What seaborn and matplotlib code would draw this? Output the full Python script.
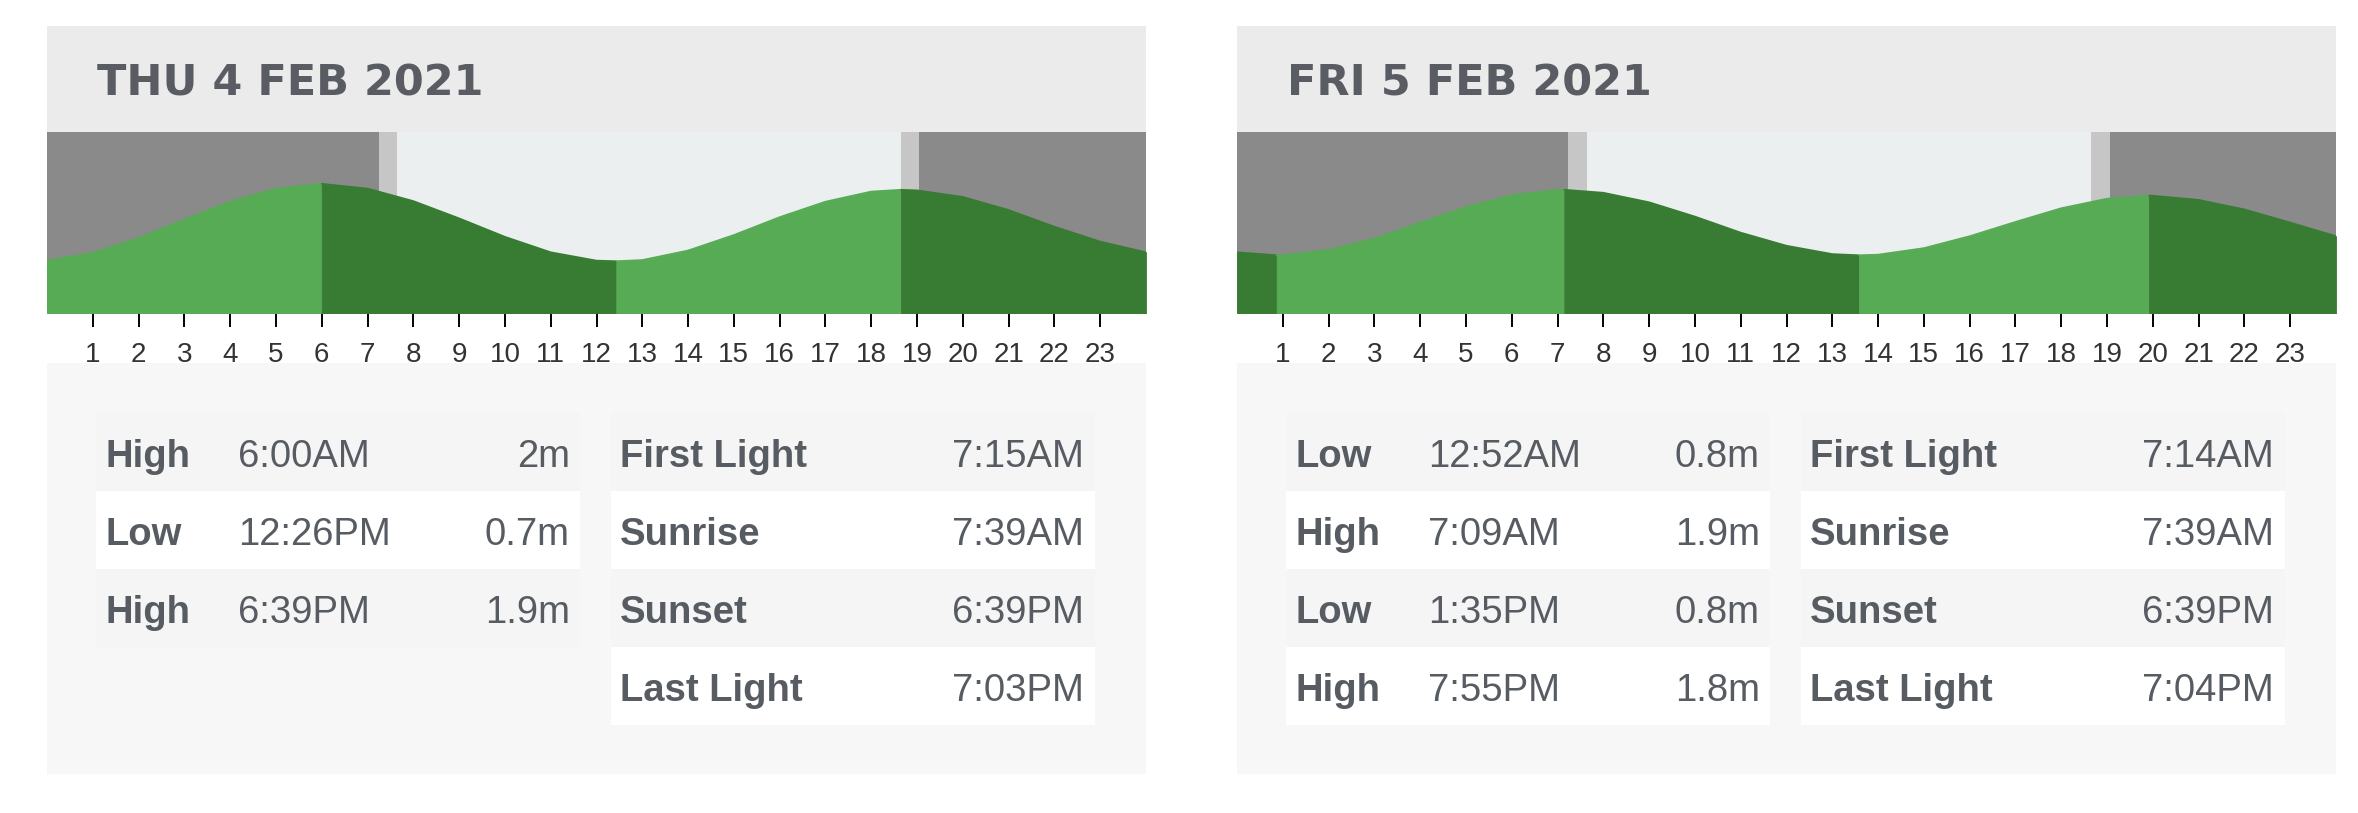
import pandas as pd
import seaborn as sns
import matplotlib.pyplot as plt
from matplotlib.patches import Rectangle

# figure size in pixels
W, H = 2358, 813

day_titles = ["THU 4 FEB 2021", "FRI 5 FEB 2021"]

# tide height (m) at every whole hour 0..24
hours = list(range(25))
thu_height = [0.71, 0.84, 1.09, 1.40, 1.70, 1.92, 2.00, 1.92, 1.71, 1.42, 1.11, 0.85, 0.71,
              0.72, 0.88, 1.14, 1.44, 1.70, 1.87, 1.89, 1.78, 1.56, 1.28, 1.03, 0.85]
fri_height = [0.85, 0.80, 0.89, 1.08, 1.35, 1.61, 1.81, 1.90, 1.85, 1.69, 1.45, 1.18, 0.96,
              0.82, 0.81, 0.92, 1.12, 1.36, 1.59, 1.75, 1.80, 1.73, 1.57, 1.35, 1.12]

# tide tables
thu_tide_type = ["High", "Low", "High"]
thu_tide_time = ["6:00AM", "12:26PM", "6:39PM"]
thu_tide_m = [2.0, 0.7, 1.9]
fri_tide_type = ["Low", "High", "Low", "High"]
fri_tide_time = ["12:52AM", "7:09AM", "1:35PM", "7:55PM"]
fri_tide_m = [0.8, 1.9, 0.8, 1.8]

# sun tables
sun_labels = ["First Light", "Sunrise", "Sunset", "Last Light"]
thu_sun_time = ["7:15AM", "7:39AM", "6:39PM", "7:03PM"]
fri_sun_time = ["7:14AM", "7:39AM", "6:39PM", "7:04PM"]

# colours
NIGHT = "#8a8a8a"
TWILIGHT = "#c6c6c6"
DAY = "#ebeff0"
RISE = "#57ab55"
FALL = "#387c34"
HEADER = "#ebebeb"
PANEL = "#f7f7f7"
ROW = "#f5f5f5"
TXT = "#575c63"


def to_hours(s):
    # "7:15AM" -> 7.25
    hm, ampm = s[:-2], s[-2:]
    h, m = hm.split(":")
    h = int(h) % 12
    if ampm == "PM":
        h += 12
    return h + int(m) / 60


sns.set_theme(style="white")
plt.rcParams["font.family"] = ["Liberation Sans", "DejaVu Sans"]

fig = plt.figure(figsize=(W / 100, H / 100), dpi=100)
fig.patch.set_facecolor("white")

# overlay in pixel coordinates for the boxes and tables
ov = fig.add_axes([0, 0, 1, 1], zorder=0)
ov.set_xlim(0, W)
ov.set_ylim(H, 0)
ov.axis("off")

days = [
    (day_titles[0], thu_height, thu_tide_type, thu_tide_time, thu_tide_m, thu_sun_time),
    (day_titles[1], fri_height, fri_tide_type, fri_tide_time, fri_tide_m, fri_sun_time),
]

for k, (title, heights, ttype, ttime, tm, stime) in enumerate(days):
    x0 = 47 + 1190 * k
    pw = 1099

    # header
    ov.add_patch(Rectangle((x0, 26), pw, 106, color=HEADER, lw=0))
    ov.text(x0 + 50, 95, title, fontsize=31, fontweight="bold", family="DejaVu Sans",
            color="#595d63", va="baseline", ha="left")

    # table panel
    ov.add_patch(Rectangle((x0, 363), pw, 411, color=PANEL, lw=0))
    for i in range(len(ttype)):
        top = 413 + 78 * i
        ov.add_patch(Rectangle((x0 + 49, top), 484, 78, color=ROW if i % 2 == 0 else "white", lw=0))
        base = top + 53.5
        ov.text(x0 + 59, base, ttype[i], fontsize=27.5, fontweight="bold", color=TXT, va="baseline")
        ov.text(x0 + 191, base, ttime[i], fontsize=27.5, color=TXT, va="baseline")
        ov.text(x0 + 523, base, f"{tm[i]:g}m", fontsize=27.5, color=TXT, va="baseline", ha="right")
    for i in range(len(sun_labels)):
        top = 413 + 78 * i
        ov.add_patch(Rectangle((x0 + 564, top), 484, 78, color=ROW if i % 2 == 0 else "white", lw=0))
        base = top + 53.5
        ov.text(x0 + 573, base, sun_labels[i], fontsize=27.5, fontweight="bold", color=TXT, va="baseline")
        ov.text(x0 + 1037, base, stime[i], fontsize=27.5, color=TXT, va="baseline", ha="right")

    # tide chart
    ax = fig.add_axes([x0 / W, 1 - 313 / H, pw / W, 181 / H], zorder=2)
    ax.set_xlim(0, 24)
    ax.set_ylim(-0.17, 2.87)

    sun_h = [to_hours(s) for s in stime]
    ax.axvspan(0, sun_h[0], color=NIGHT, lw=0)
    ax.axvspan(sun_h[0], sun_h[1], color=TWILIGHT, lw=0)
    ax.axvspan(sun_h[1], sun_h[2], color=DAY, lw=0)
    ax.axvspan(sun_h[2], sun_h[3], color=TWILIGHT, lw=0)
    ax.axvspan(sun_h[3], 24, color=NIGHT, lw=0)

    ev_h = [to_hours(s) for s in ttime]
    curve = pd.concat([
        pd.DataFrame({"hour": hours, "m": heights}),
        pd.DataFrame({"hour": ev_h, "m": tm}),
    ]).sort_values("hour").reset_index(drop=True)

    bounds = [0] + ev_h + [24]
    for i in range(len(bounds) - 1):
        a, b = bounds[i], bounds[i + 1]
        seg = curve[(curve["hour"] >= a) & (curve["hour"] <= b)]
        if i < len(ttype):
            rising = ttype[i] == "High"
        else:
            rising = ttype[-1] == "Low"
        c = RISE if rising else FALL
        ax.fill_between(seg["hour"], -1, seg["m"], color=c, lw=0.6, edgecolor=c)
        sns.lineplot(data=seg, x="hour", y="m", color=c, lw=1.2, ax=ax, estimator=None)

    ax.set_xlabel("")
    ax.set_ylabel("")
    ax.set_yticks([])
    ax.set_xticks(range(1, 24))
    ax.tick_params(axis="x", bottom=True, direction="out", length=10, width=1.4,
                   color="black", pad=11, labelsize=20, labelcolor="#333333")
    for lbl in ax.get_xticklabels():
        lbl.set_fontfamily(["Liberation Sans Narrow", "Liberation Sans"])
    for sp in ax.spines.values():
        sp.set_visible(False)

fig.savefig("out.png", dpi=100, facecolor="white")
